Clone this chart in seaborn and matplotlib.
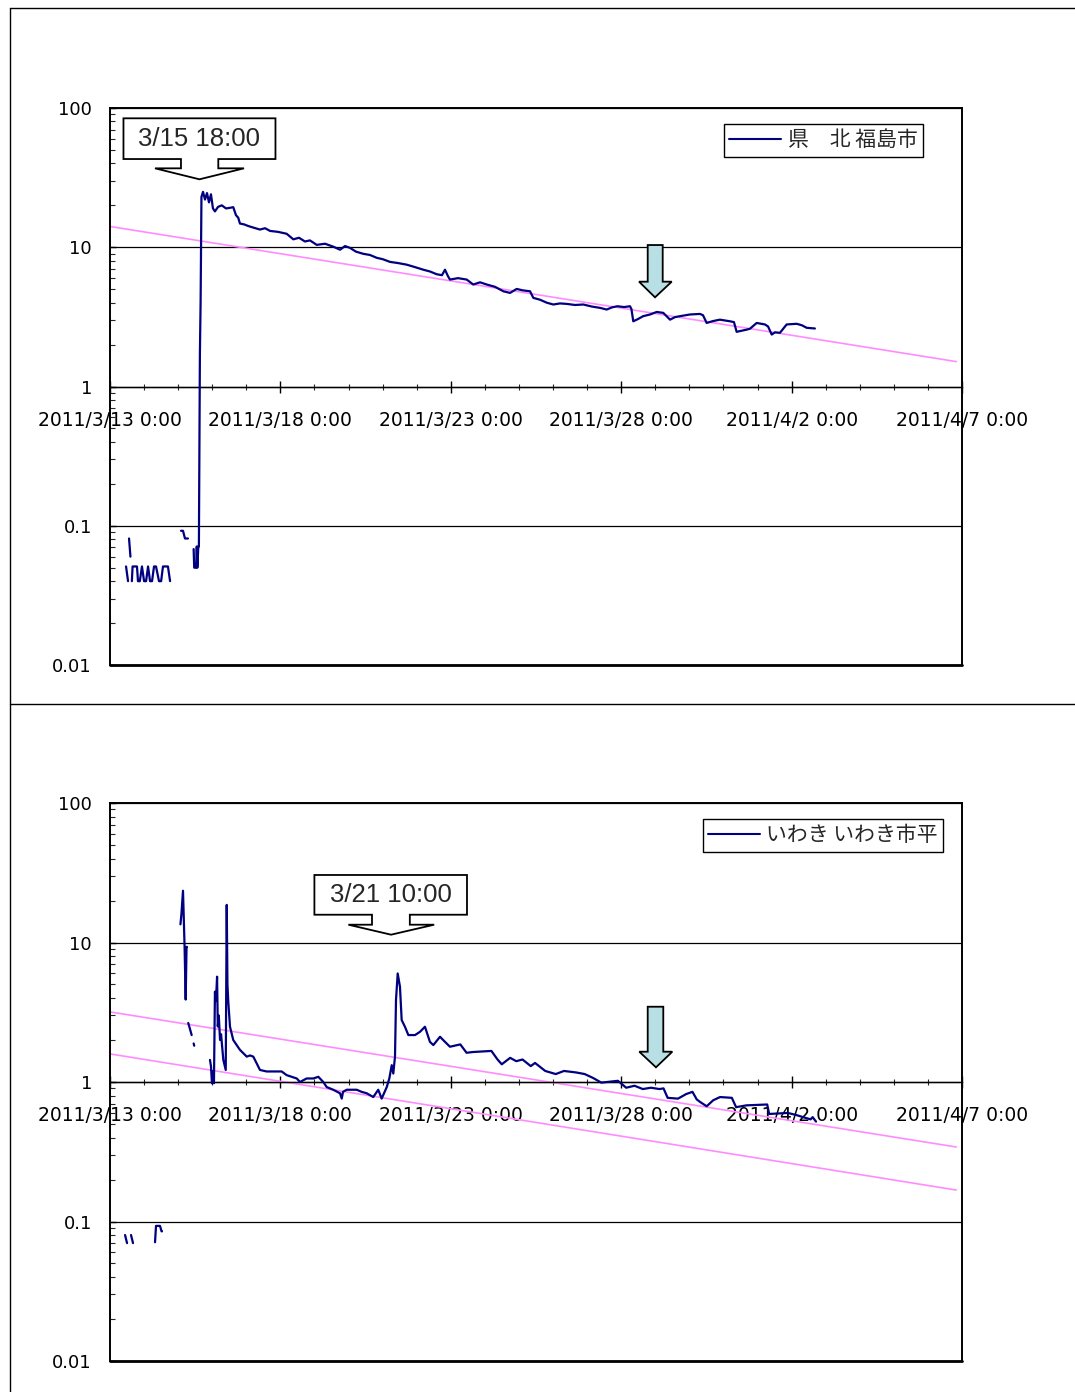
import numpy as np
import pandas as pd
import matplotlib
matplotlib.use("Agg")
import matplotlib.pyplot as plt
import seaborn as sns
from matplotlib.patches import Polygon
from matplotlib.lines import Line2D
from matplotlib.ticker import LogLocator, NullFormatter

sns.set_theme(style="white")
# tick numbers in DejaVu, Japanese text falls back to Noto CJK
plt.rcParams["font.family"] = ["DejaVu Sans", "Noto Sans CJK JP"]

NAN = np.nan
START = pd.Timestamp("2011-03-13 00:00")
END = pd.Timestamp("2011-04-07 00:00")

# --- top panel: 県北 福島市 (hours after 3/13 0:00, value) ---
top_label = "県　北 福島市"
top_hours = [11.3, 12.7, 13.0,
             13.4, 14.4, 14.8,
             15.4, 15.9, 19.0, 19.7, 21.0, 22.5, 24.0, 25.4, 26.8, 28.2, 29.6, 31.0,
             32.4, 34.5, 36.0, 37.3, 40.8, 42.3, 45.0,
             50.0, 51.4, 52.8, 54.9, 56.0,
             58.9, 59.3, 60.7, 61.1, 61.5, 62.2, 62.6, 63.3, 63.8, 64.4,
             65.5, 66.9, 68.3, 69.7, 71.1, 72.5, 73.9, 76.1, 78.7, 81.7,
             84.5, 86.8, 88.7, 90.3, 91.5, 94.4, 97.4, 101.4, 105.6, 109.2,
             112.7, 118.3, 124.4, 129.1, 133.1, 137.3, 140.8, 145.6, 151.4, 157.2,
             162.0, 165.5, 169.0, 173.2, 178.4, 183.1, 187.8, 192.2, 197.2, 202.8,
             208.9, 214.8, 220.6, 225.3, 230.1, 233.8, 235.9, 238.0, 239.4, 245.1,
             251.2, 255.8, 260.6, 265.3, 271.1, 277.0, 281.7, 286.4, 290.8, 295.8,
             298.1, 302.8, 307.5, 312.2, 316.9, 321.6, 327.5, 333.3, 339.4, 345.1,
             349.8, 353.5, 357.3, 362.0, 366.2, 367.2, 368.5, 371.8, 375.5, 380.3,
             385.0, 389.6, 394.4, 397.9, 401.5, 408.4, 415.5, 417.6, 420.2, 424.6,
             429.5, 436.6, 439.4, 441.3, 448.3, 450.7, 455.4, 461.2, 463.4, 466.0,
             468.3, 471.8, 476.5, 483.6, 487.3, 490.6, 496.4]
top_values = [0.051, 0.040, NAN,
              0.081, 0.060, NAN,
              0.040, 0.051, 0.051, 0.040, 0.040, 0.051, 0.040, 0.040, 0.051, 0.040, 0.040, 0.051,
              0.051, 0.040, 0.040, 0.051, 0.051, 0.040, NAN,
              0.092, 0.092, 0.081, 0.081, NAN,
              0.068, 0.050, 0.050, 0.071, 0.050, 0.071, 0.071, 1.7, 4.0, 23.0,
              25.0, 22.0, 24.5, 21.0, 24.0, 19.0, 18.1, 19.5, 20.0, 19.0,
              19.2, 19.4, 17.0, 16.3, 14.8, 14.6, 14.2, 13.8, 13.4, 13.7,
              13.1, 12.9, 12.5, 11.4, 11.7, 11.0, 11.2, 10.4, 10.6, 10.1,
              9.6, 10.2, 9.9, 9.3, 8.97, 8.8, 8.4, 8.2, 7.85, 7.7,
              7.5, 7.2, 6.9, 6.7, 6.4, 6.3, 6.9, 6.2, 5.86, 6.0,
              5.86, 5.4, 5.6, 5.4, 5.2, 4.83, 4.7, 5.02, 4.9, 4.83,
              4.33, 4.2, 4.0, 3.88, 3.95, 3.92, 3.85, 3.88, 3.75, 3.67,
              3.57, 3.7, 3.77, 3.72, 3.77, 3.6, 2.94, 3.05, 3.2, 3.29,
              3.43, 3.38, 3.02, 3.15, 3.2, 3.29, 3.32, 3.25, 2.86, 2.95,
              3.02, 2.94, 2.9, 2.47, 2.56, 2.6, 2.86, 2.79, 2.7, 2.36,
              2.45, 2.43, 2.79, 2.82, 2.75, 2.64, 2.61]

# --- bottom panel: いわき いわき市平 ---
bottom_label = "いわき いわき市平"
bottom_hours = [10.6, 12.0, 13.0,
                14.8, 16.2, 17.0,
                31.7, 32.4, 35.2, 36.3, 36.6, 40.0,
                49.6, 50.3, 51.4, 52.5, 53.3, 53.9, 54.2, 54.6,
                55.1, 56.3, 57.5, 58.2,
                58.9, 59.3, 65.0,
                70.4, 71.1, 71.8, 72.7, 73.2, 73.9, 74.6, 75.4, 75.9, 76.6,
                77.5, 78.2, 79.8, 81.5, 82.2, 82.7, 83.3, 84.5, 86.8, 91.5,
                96.3, 98.6, 100.9, 103.3, 105.6, 110.3, 115.0, 120.9, 124.4, 131.5,
                133.8, 138.5, 143.2, 146.7, 150.2, 152.6, 157.2, 162.0, 163.2, 164.1,
                166.7, 173.7, 177.2, 180.8, 185.4, 188.9, 191.3, 194.9, 196.7, 198.4,
                199.5, 200.7, 201.4, 202.6, 204.2, 205.4, 207.7, 210.1, 214.8, 218.3,
                221.8, 225.3, 227.7, 232.4, 235.9, 239.4, 246.7, 251.1, 255.5, 268.6,
                272.9, 275.9, 281.8, 286.1, 290.5, 296.3, 299.3, 306.5, 313.9, 319.7,
                328.4, 334.3, 340.1, 346.0, 357.7, 363.5, 369.4, 375.2, 381.0, 386.9,
                389.8, 392.7, 400.0, 405.8, 410.2, 413.2, 415.5, 420.2, 424.8, 429.6,
                437.9, 440.9, 448.1, 462.8, 464.2, 477.4, 483.2, 490.6, 493.4, 494.8,
                497.2]
bottom_values = [0.080, 0.070, NAN,
                 0.080, 0.070, NAN,
                 0.071, 0.093, 0.093, 0.085, 0.085, NAN,
                 13.5, 16.0, 23.5, 9.5, 3.9, 9.3, 9.3, NAN,
                 2.65, 2.4, 2.17, NAN,
                 1.89, 1.82, NAN,
                 1.44, 1.3, 0.98, 1.2, 0.98, 4.44, 3.8, 5.69, 2.5, 3.0,
                 2.0, 2.2, 1.44, 1.22, 18.6, 5.0, 3.76, 2.49, 2.0, 1.70,
                 1.52, 1.55, 1.52, 1.36, 1.22, 1.19, 1.19, 1.19, 1.12, 1.06,
                 1.0, 1.06, 1.06, 1.09, 1.0, 0.92, 0.88, 0.83, 0.76, 0.85,
                 0.88, 0.88, 0.85, 0.83, 0.78, 0.88, 0.76, 0.92, 1.06, 1.32,
                 1.15, 1.52, 3.87, 6.0, 4.82, 2.78, 2.49, 2.17, 2.17, 2.29,
                 2.49, 1.94, 1.84, 2.11, 1.94, 1.79, 1.86, 1.62, 1.64, 1.67,
                 1.45, 1.34, 1.49, 1.41, 1.45, 1.30, 1.37, 1.2, 1.14, 1.2,
                 1.17, 1.14, 1.07, 0.99, 1.02, 0.91, 0.94, 0.89, 0.91, 0.89,
                 0.90, 0.77, 0.76, 0.82, 0.85, 0.75, 0.72, 0.67, 0.74, 0.78,
                 0.77, 0.66, 0.68, 0.69, 0.59, 0.60, 0.58, 0.55, 0.54, 0.56,
                 0.52]

# pink reference lines (start / end values)
ref_times = ["2011-03-13 00:00", "2011-04-06 20:00"]
top_ref = [14.1, 1.51]
bottom_ref_upper = [3.18, 0.342]
bottom_ref_lower = [1.59, 0.168]

NAVY = "#000080"
PINK = "#ff8cff"
ARROW_FILL = "#b8dfe3"


def series_frame(hours, values):
    df = pd.DataFrame({"hours": hours, "value": values})
    df["seg"] = df["value"].isna().cumsum()
    df = df.dropna()
    df["time"] = START + pd.to_timedelta(df["hours"], unit="h")
    return df


def callout(ax, box, stem, wings, wing_y, tip, text):
    x0, x1, y0, y1 = box
    pts = [(x0, y1), (x1, y1), (x1, y0), (stem[1], y0), (stem[1], wing_y),
           (wings[1], wing_y), tip, (wings[0], wing_y), (stem[0], wing_y),
           (stem[0], y0), (x0, y0)]
    ax.add_patch(Polygon(pts, closed=True, transform=ax.transAxes, fc="white",
                         ec="black", lw=1.3, zorder=6, clip_on=False))
    ax.text((x0 + x1) / 2, (y0 + y1) / 2, text, transform=ax.transAxes,
            ha="center", va="center", fontsize=18.5, family="Liberation Sans",
            zorder=7)


def block_arrow(ax, stem, stem_top, head, head_top, tip):
    pts = [(stem[0], stem_top), (stem[1], stem_top), (stem[1], head_top),
           (head[1], head_top), tip, (head[0], head_top), (stem[0], head_top)]
    ax.add_patch(Polygon(pts, closed=True, transform=ax.transAxes, fc=ARROW_FILL,
                         ec="black", lw=1.3, zorder=6))


def style_axis(ax):
    ax.set_yscale("log")
    ax.set_ylim(0.01, 100)
    ax.set_xlim(START, END)
    ax.set_xlabel("")
    ax.set_ylabel("")
    major = pd.date_range(START, END, freq="5D")
    ax.set_xticks(major)
    ax.set_xticklabels([f"{d.year}/{d.month}/{d.day} 0:00" for d in major])
    ax.set_xticks(pd.date_range(START, END, freq="D"), minor=True)
    ax.set_yticks([0.01, 0.1, 1, 10, 100])
    ax.set_yticklabels(["0.01", "0.1", "1", "10", "100"])
    ax.yaxis.set_minor_locator(LogLocator(base=10, subs=range(2, 10)))
    ax.yaxis.set_minor_formatter(NullFormatter())
    ax.spines["bottom"].set_position(("data", 1))
    ax.spines["bottom"].set_linewidth(1.0)
    ax.spines["bottom"].set_color("black")
    for s in ["left", "top", "right"]:
        ax.spines[s].set_linewidth(1.4)
        ax.spines[s].set_color("black")
    ax.axhline(0.01, color="black", lw=2.0, clip_on=False, zorder=5)
    ax.tick_params(axis="x", which="major", bottom=True, direction="inout",
                   length=9, width=1, pad=13, labelsize=13.5, colors="black")
    ax.tick_params(axis="x", which="minor", bottom=True, direction="inout",
                   length=5, width=0.8)
    ax.tick_params(axis="y", which="major", left=True, direction="in",
                   length=4, width=1, pad=13, labelsize=13, colors="black")
    ax.tick_params(axis="y", which="minor", left=True, direction="in",
                   length=3.5, width=0.8)
    ax.grid(False)
    ax.yaxis.grid(True, which="major", color="black", lw=0.9)


fig = plt.figure(figsize=(10.75, 13.92), dpi=100)
ax_top = fig.add_axes([0.10233, 0.52227, 0.79256, 0.40014])
ax_bot = fig.add_axes([0.10233, 0.02227, 0.79256, 0.40086])

panels = [
    (ax_top, top_hours, top_values, top_label, [top_ref], 0.954),
    (ax_bot, bottom_hours, bottom_values, bottom_label,
     [bottom_ref_upper, bottom_ref_lower], 0.9777),
]
for ax, hours, values, label, refs, leg_x in panels:
    ax.set_yscale("log")
    for ref in refs:
        ref_df = pd.DataFrame({"time": pd.to_datetime(ref_times), "value": ref})
        sns.lineplot(data=ref_df, x="time", y="value", color=PINK, lw=1.2,
                     ax=ax, legend=False, zorder=2)
    df = series_frame(hours, values)
    sns.lineplot(data=df, x="time", y="value", units="seg", estimator=None,
                 color=NAVY, lw=1.6, ax=ax, legend=False, zorder=3)
    style_axis(ax)
    handle = Line2D([], [], color=NAVY, lw=1.5)
    leg = ax.legend([handle], [label], loc="upper right",
                    bbox_to_anchor=(leg_x, 0.971), borderaxespad=0,
                    fancybox=False, edgecolor="black", framealpha=1,
                    handlelength=2.5, handletextpad=0.3, borderpad=0.25,
                    prop={"family": "Noto Sans CJK JP", "size": 15})
    leg.get_frame().set_linewidth(1.0)

# callouts with time stamps
callout(ax_top, (0.0158, 0.1942, 0.9084, 0.9815), (0.0833, 0.1271),
        (0.0528, 0.1573), 0.8917, (0.1050, 0.8720), "3/15 18:00")
callout(ax_bot, (0.2399, 0.4190, 0.7998, 0.8710), (0.3075, 0.3519),
        (0.2798, 0.3805), 0.7819, (0.3299, 0.7640), "3/21 10:00")

# light blue down arrows
block_arrow(ax_top, (0.6311, 0.6487), 0.7540, (0.6209, 0.6593), 0.6882,
            (0.6397, 0.6601))
block_arrow(ax_bot, (0.6311, 0.6494), 0.6349, (0.6212, 0.6600), 0.5543,
            (0.6408, 0.5263))

# outer chart borders
for xs, ys in [([0.0093, 0.0093], [0.99425, 0.0]),
               ([0.0093, 1.0], [0.99425, 0.99425]),
               ([0.0093, 1.0], [0.49425, 0.49425])]:
    fig.add_artist(Line2D(xs, ys, transform=fig.transFigure, color="black", lw=1.0))

fig.savefig("out.png", dpi=100, facecolor="white")
